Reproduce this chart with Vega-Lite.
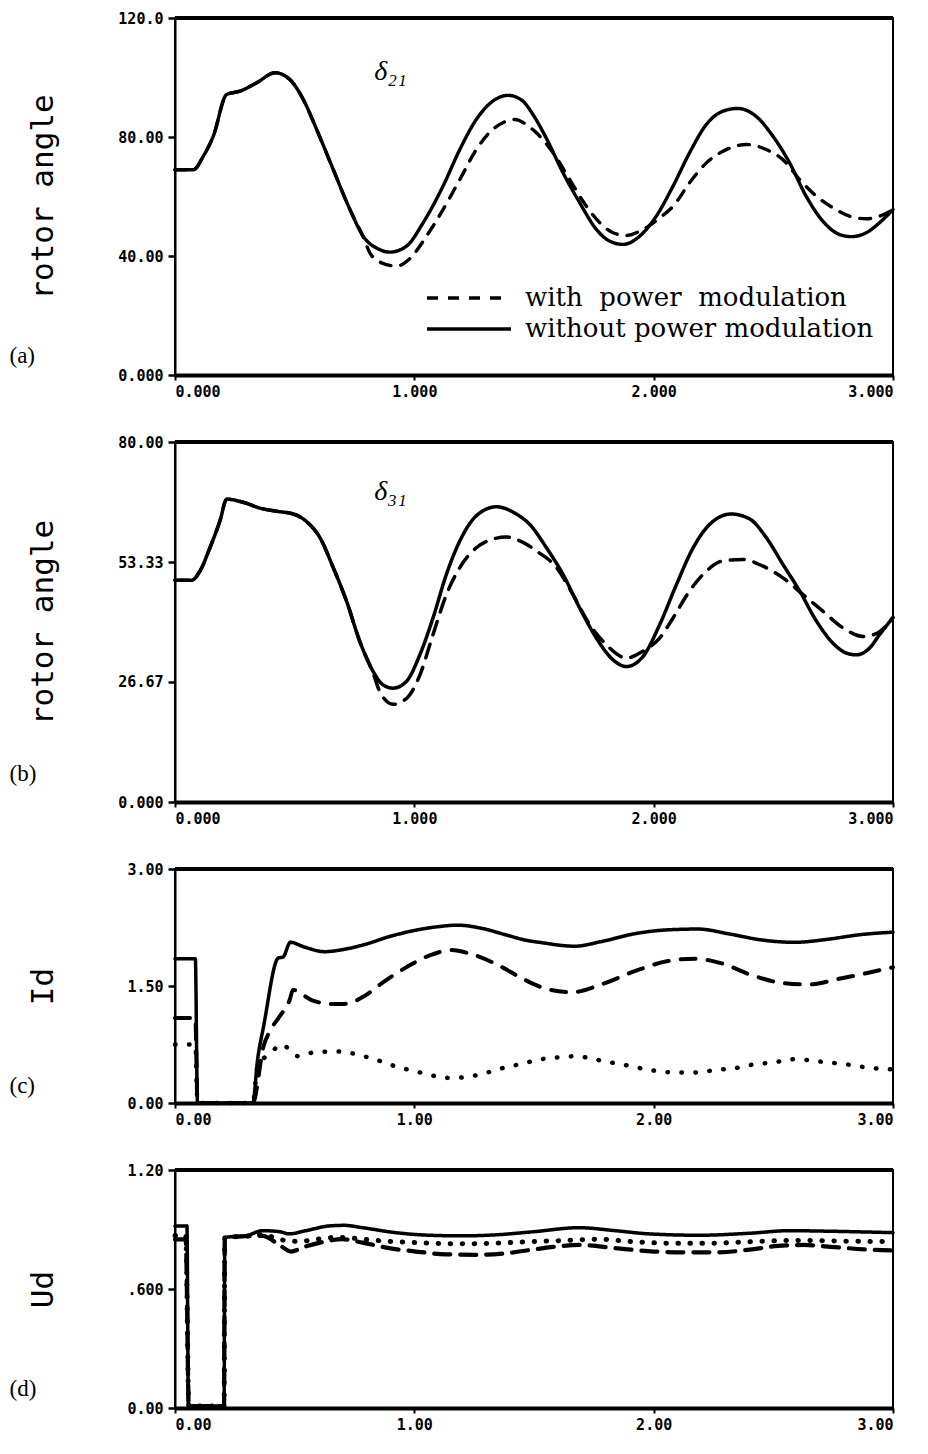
{
  "$schema": "https://vega.github.io/schema/vega-lite/v6.json",
  "background": "white",
  "padding": {"left": 8, "top": 10, "right": 5, "bottom": 5},
  "spacing": 34,
  "resolve": {"scale": {"x": "independent", "y": "independent", "strokeDash": "independent", "strokeWidth": "independent"}},
  "config": {
    "view": {"stroke": "black", "strokeWidth": 2},
    "axis": {"labelFont": "DejaVu Sans Mono", "labelFontWeight": "bold", "labelFontSize": 15, "labelColor": "black", "domainColor": "black", "tickColor": "black", "grid": false, "titleColor": "black"},
    "axisX": {"domainWidth": 4, "tickSize": 5, "tickWidth": 2, "labelPadding": 4, "titleFont": "Liberation Serif", "titleFontSize": 23, "titleFontWeight": "normal", "titleAlign": "left", "titleBaseline": "middle", "titleX": -166},
    "axisY": {"domainWidth": 2, "tickSize": 7, "tickWidth": 2.5, "labelPadding": 5, "titleFont": "DejaVu Sans Mono", "titleFontSize": 31, "titleFontWeight": "normal", "titleX": -132, "titleBaseline": "middle"}
  },
  "datasets": {
    "a": [
      {"t":0,"v":69,"s":"without power modulation"},{"t":0.077,"v":69,"s":"without power modulation"},{"t":0.118,"v":73.5,"s":"without power modulation"},{"t":0.16,"v":80.3,"s":"without power modulation"},{"t":0.216,"v":94.3,"s":"without power modulation"},{"t":0.271,"v":95.4,"s":"without power modulation"},{"t":0.341,"v":98.2,"s":"without power modulation"},{"t":0.418,"v":101.6,"s":"without power modulation"},{"t":0.48,"v":99.3,"s":"without power modulation"},{"t":0.536,"v":92.6,"s":"without power modulation"},{"t":0.592,"v":82.5,"s":"without power modulation"},{"t":0.661,"v":69.1,"s":"without power modulation"},{"t":0.731,"v":55.6,"s":"without power modulation"},{"t":0.786,"v":46.7,"s":"without power modulation"},{"t":0.854,"v":42.2,"s":"without power modulation"},{"t":0.898,"v":41.3,"s":"without power modulation"},{"t":0.967,"v":43.3,"s":"without power modulation"},{"t":1.037,"v":51.2,"s":"without power modulation"},{"t":1.12,"v":63.5,"s":"without power modulation"},{"t":1.19,"v":75.8,"s":"without power modulation"},{"t":1.259,"v":85.9,"s":"without power modulation"},{"t":1.327,"v":92.0,"s":"without power modulation"},{"t":1.392,"v":94.0,"s":"without power modulation"},{"t":1.45,"v":92.3,"s":"without power modulation"},{"t":1.5,"v":87,"s":"without power modulation"},{"t":1.552,"v":79.5,"s":"without power modulation"},{"t":1.621,"v":68,"s":"without power modulation"},{"t":1.691,"v":57.9,"s":"without power modulation"},{"t":1.761,"v":48.9,"s":"without power modulation"},{"t":1.816,"v":45.0,"s":"without power modulation"},{"t":1.872,"v":43.9,"s":"without power modulation"},{"t":1.942,"v":46.7,"s":"without power modulation"},{"t":2.011,"v":53.4,"s":"without power modulation"},{"t":2.081,"v":63.5,"s":"without power modulation"},{"t":2.15,"v":74.7,"s":"without power modulation"},{"t":2.22,"v":84.2,"s":"without power modulation"},{"t":2.29,"v":88.7,"s":"without power modulation"},{"t":2.352,"v":89.6,"s":"without power modulation"},{"t":2.427,"v":87.0,"s":"without power modulation"},{"t":2.498,"v":80.3,"s":"without power modulation"},{"t":2.568,"v":71.3,"s":"without power modulation"},{"t":2.637,"v":60.1,"s":"without power modulation"},{"t":2.707,"v":51.7,"s":"without power modulation"},{"t":2.777,"v":47.2,"s":"without power modulation"},{"t":2.825,"v":46.5,"s":"without power modulation"},{"t":2.888,"v":47.8,"s":"without power modulation"},{"t":2.944,"v":51.2,"s":"without power modulation"},{"t":3.0,"v":55.6,"s":"without power modulation"},
      {"t":0,"v":69,"s":"with power modulation"},{"t":0.077,"v":69,"s":"with power modulation"},{"t":0.118,"v":73.5,"s":"with power modulation"},{"t":0.16,"v":80.3,"s":"with power modulation"},{"t":0.216,"v":94.3,"s":"with power modulation"},{"t":0.271,"v":95.4,"s":"with power modulation"},{"t":0.341,"v":98.2,"s":"with power modulation"},{"t":0.418,"v":101.6,"s":"with power modulation"},{"t":0.48,"v":99.3,"s":"with power modulation"},{"t":0.536,"v":92.6,"s":"with power modulation"},{"t":0.592,"v":82.5,"s":"with power modulation"},{"t":0.661,"v":69.1,"s":"with power modulation"},{"t":0.731,"v":55.6,"s":"with power modulation"},{"t":0.786,"v":46.5,"s":"with power modulation"},{"t":0.814,"v":41.1,"s":"with power modulation"},{"t":0.863,"v":37.7,"s":"with power modulation"},{"t":0.926,"v":36.6,"s":"with power modulation"},{"t":0.981,"v":39.1,"s":"with power modulation"},{"t":1.051,"v":46.7,"s":"with power modulation"},{"t":1.12,"v":55.6,"s":"with power modulation"},{"t":1.19,"v":65.7,"s":"with power modulation"},{"t":1.259,"v":75.8,"s":"with power modulation"},{"t":1.327,"v":82.5,"s":"with power modulation"},{"t":1.385,"v":85.3,"s":"with power modulation"},{"t":1.42,"v":85.9,"s":"with power modulation"},{"t":1.468,"v":84.2,"s":"with power modulation"},{"t":1.51,"v":81.4,"s":"with power modulation"},{"t":1.58,"v":74.7,"s":"with power modulation"},{"t":1.649,"v":65.7,"s":"with power modulation"},{"t":1.719,"v":56.7,"s":"with power modulation"},{"t":1.775,"v":51.2,"s":"with power modulation"},{"t":1.83,"v":47.8,"s":"with power modulation"},{"t":1.886,"v":46.9,"s":"with power modulation"},{"t":1.955,"v":48.9,"s":"with power modulation"},{"t":2.025,"v":52.8,"s":"with power modulation"},{"t":2.081,"v":56.7,"s":"with power modulation"},{"t":2.15,"v":64.6,"s":"with power modulation"},{"t":2.22,"v":71.3,"s":"with power modulation"},{"t":2.29,"v":75.2,"s":"with power modulation"},{"t":2.387,"v":77.5,"s":"with power modulation"},{"t":2.47,"v":75.8,"s":"with power modulation"},{"t":2.54,"v":72.4,"s":"with power modulation"},{"t":2.61,"v":65.7,"s":"with power modulation"},{"t":2.68,"v":60.1,"s":"with power modulation"},{"t":2.749,"v":56.2,"s":"with power modulation"},{"t":2.818,"v":53.4,"s":"with power modulation"},{"t":2.888,"v":52.5,"s":"with power modulation"},{"t":2.944,"v":53.4,"s":"with power modulation"},{"t":3.0,"v":55.6,"s":"with power modulation"}
    ],
    "b": [
      {"t":0,"v":49.3,"s":"without power modulation"},{"t":0.07,"v":49.3,"s":"without power modulation"},{"t":0.104,"v":51.3,"s":"without power modulation"},{"t":0.146,"v":56.5,"s":"without power modulation"},{"t":0.188,"v":62.5,"s":"without power modulation"},{"t":0.216,"v":67.3,"s":"without power modulation"},{"t":0.285,"v":66.6,"s":"without power modulation"},{"t":0.355,"v":65.3,"s":"without power modulation"},{"t":0.425,"v":64.6,"s":"without power modulation"},{"t":0.494,"v":64.0,"s":"without power modulation"},{"t":0.55,"v":62.3,"s":"without power modulation"},{"t":0.605,"v":58.8,"s":"without power modulation"},{"t":0.661,"v":52.1,"s":"without power modulation"},{"t":0.717,"v":44.6,"s":"without power modulation"},{"t":0.772,"v":35.7,"s":"without power modulation"},{"t":0.828,"v":29.0,"s":"without power modulation"},{"t":0.87,"v":26.0,"s":"without power modulation"},{"t":0.911,"v":25.3,"s":"without power modulation"},{"t":0.967,"v":26.8,"s":"without power modulation"},{"t":1.023,"v":32.7,"s":"without power modulation"},{"t":1.078,"v":40.9,"s":"without power modulation"},{"t":1.134,"v":50.6,"s":"without power modulation"},{"t":1.19,"v":58.0,"s":"without power modulation"},{"t":1.259,"v":63.6,"s":"without power modulation"},{"t":1.343,"v":65.6,"s":"without power modulation"},{"t":1.426,"v":64.0,"s":"without power modulation"},{"t":1.482,"v":61.7,"s":"without power modulation"},{"t":1.552,"v":56.5,"s":"without power modulation"},{"t":1.621,"v":50.6,"s":"without power modulation"},{"t":1.691,"v":43.1,"s":"without power modulation"},{"t":1.761,"v":36.4,"s":"without power modulation"},{"t":1.83,"v":31.6,"s":"without power modulation"},{"t":1.886,"v":30.1,"s":"without power modulation"},{"t":1.955,"v":32.3,"s":"without power modulation"},{"t":2.025,"v":39.4,"s":"without power modulation"},{"t":2.095,"v":48.3,"s":"without power modulation"},{"t":2.165,"v":56.5,"s":"without power modulation"},{"t":2.234,"v":61.7,"s":"without power modulation"},{"t":2.324,"v":64.0,"s":"without power modulation"},{"t":2.401,"v":62.9,"s":"without power modulation"},{"t":2.47,"v":58.8,"s":"without power modulation"},{"t":2.54,"v":52.8,"s":"without power modulation"},{"t":2.61,"v":46.9,"s":"without power modulation"},{"t":2.68,"v":40.2,"s":"without power modulation"},{"t":2.749,"v":35.3,"s":"without power modulation"},{"t":2.805,"v":33.1,"s":"without power modulation"},{"t":2.846,"v":32.7,"s":"without power modulation"},{"t":2.902,"v":34.2,"s":"without power modulation"},{"t":2.944,"v":37.2,"s":"without power modulation"},{"t":3.0,"v":41.0,"s":"without power modulation"},
      {"t":0,"v":49.3,"s":"with power modulation"},{"t":0.07,"v":49.3,"s":"with power modulation"},{"t":0.104,"v":51.3,"s":"with power modulation"},{"t":0.146,"v":56.5,"s":"with power modulation"},{"t":0.188,"v":62.5,"s":"with power modulation"},{"t":0.216,"v":67.3,"s":"with power modulation"},{"t":0.285,"v":66.6,"s":"with power modulation"},{"t":0.355,"v":65.3,"s":"with power modulation"},{"t":0.425,"v":64.6,"s":"with power modulation"},{"t":0.494,"v":64.0,"s":"with power modulation"},{"t":0.55,"v":62.3,"s":"with power modulation"},{"t":0.605,"v":58.8,"s":"with power modulation"},{"t":0.661,"v":52.1,"s":"with power modulation"},{"t":0.717,"v":44.6,"s":"with power modulation"},{"t":0.772,"v":35.7,"s":"with power modulation"},{"t":0.828,"v":28.6,"s":"with power modulation"},{"t":0.856,"v":24.5,"s":"with power modulation"},{"t":0.911,"v":21.7,"s":"with power modulation"},{"t":0.967,"v":23.0,"s":"with power modulation"},{"t":1.023,"v":28.2,"s":"with power modulation"},{"t":1.078,"v":37.2,"s":"with power modulation"},{"t":1.134,"v":46.1,"s":"with power modulation"},{"t":1.19,"v":52.1,"s":"with power modulation"},{"t":1.259,"v":56.5,"s":"with power modulation"},{"t":1.327,"v":58.4,"s":"with power modulation"},{"t":1.385,"v":58.9,"s":"with power modulation"},{"t":1.454,"v":57.7,"s":"with power modulation"},{"t":1.51,"v":55.8,"s":"with power modulation"},{"t":1.594,"v":52.1,"s":"with power modulation"},{"t":1.663,"v":46.1,"s":"with power modulation"},{"t":1.733,"v":39.4,"s":"with power modulation"},{"t":1.803,"v":34.9,"s":"with power modulation"},{"t":1.886,"v":32.0,"s":"with power modulation"},{"t":1.955,"v":33.5,"s":"with power modulation"},{"t":2.025,"v":36.4,"s":"with power modulation"},{"t":2.081,"v":40.9,"s":"with power modulation"},{"t":2.15,"v":46.9,"s":"with power modulation"},{"t":2.22,"v":51.3,"s":"with power modulation"},{"t":2.29,"v":53.6,"s":"with power modulation"},{"t":2.373,"v":53.9,"s":"with power modulation"},{"t":2.457,"v":52.4,"s":"with power modulation"},{"t":2.54,"v":49.8,"s":"with power modulation"},{"t":2.624,"v":46.1,"s":"with power modulation"},{"t":2.707,"v":42.4,"s":"with power modulation"},{"t":2.791,"v":38.7,"s":"with power modulation"},{"t":2.875,"v":36.8,"s":"with power modulation"},{"t":2.93,"v":37.4,"s":"with power modulation"},{"t":3.0,"v":41.0,"s":"with power modulation"}
    ],
    "c": [
      {"t":0,"v":1.85,"s":"series 1"},{"t":0.085,"v":1.85,"s":"series 1"},{"t":0.094,"v":0,"s":"series 1"},{"t":0.325,"v":0,"s":"series 1"},{"t":0.345,"v":0.555,"s":"series 1"},{"t":0.37,"v":0.98,"s":"series 1"},{"t":0.432,"v":1.86,"s":"series 1"},{"t":0.451,"v":1.87,"s":"series 1"},{"t":0.482,"v":2.06,"s":"series 1"},{"t":0.54,"v":2.0,"s":"series 1"},{"t":0.624,"v":1.94,"s":"series 1"},{"t":0.707,"v":1.97,"s":"series 1"},{"t":0.791,"v":2.03,"s":"series 1"},{"t":0.903,"v":2.14,"s":"series 1"},{"t":1.014,"v":2.22,"s":"series 1"},{"t":1.098,"v":2.26,"s":"series 1"},{"t":1.182,"v":2.28,"s":"series 1"},{"t":1.28,"v":2.24,"s":"series 1"},{"t":1.377,"v":2.16,"s":"series 1"},{"t":1.461,"v":2.09,"s":"series 1"},{"t":1.545,"v":2.05,"s":"series 1"},{"t":1.615,"v":2.02,"s":"series 1"},{"t":1.67,"v":2.01,"s":"series 1"},{"t":1.782,"v":2.07,"s":"series 1"},{"t":1.921,"v":2.17,"s":"series 1"},{"t":2.06,"v":2.22,"s":"series 1"},{"t":2.186,"v":2.23,"s":"series 1"},{"t":2.311,"v":2.17,"s":"series 1"},{"t":2.451,"v":2.09,"s":"series 1"},{"t":2.59,"v":2.06,"s":"series 1"},{"t":2.729,"v":2.10,"s":"series 1"},{"t":2.869,"v":2.16,"s":"series 1"},{"t":3.0,"v":2.19,"s":"series 1"},
      {"t":0,"v":1.09,"s":"series 2"},{"t":0.085,"v":1.09,"s":"series 2"},{"t":0.094,"v":0,"s":"series 2"},{"t":0.325,"v":0,"s":"series 2"},{"t":0.37,"v":0.73,"s":"series 2"},{"t":0.4,"v":0.94,"s":"series 2"},{"t":0.437,"v":1.11,"s":"series 2"},{"t":0.479,"v":1.32,"s":"series 2"},{"t":0.493,"v":1.45,"s":"series 2"},{"t":0.57,"v":1.32,"s":"series 2"},{"t":0.654,"v":1.27,"s":"series 2"},{"t":0.707,"v":1.27,"s":"series 2"},{"t":0.791,"v":1.37,"s":"series 2"},{"t":0.875,"v":1.56,"s":"series 2"},{"t":0.972,"v":1.75,"s":"series 2"},{"t":1.07,"v":1.90,"s":"series 2"},{"t":1.154,"v":1.96,"s":"series 2"},{"t":1.238,"v":1.91,"s":"series 2"},{"t":1.349,"v":1.77,"s":"series 2"},{"t":1.461,"v":1.58,"s":"series 2"},{"t":1.545,"v":1.47,"s":"series 2"},{"t":1.657,"v":1.42,"s":"series 2"},{"t":1.782,"v":1.52,"s":"series 2"},{"t":1.921,"v":1.69,"s":"series 2"},{"t":2.06,"v":1.82,"s":"series 2"},{"t":2.172,"v":1.85,"s":"series 2"},{"t":2.284,"v":1.79,"s":"series 2"},{"t":2.409,"v":1.64,"s":"series 2"},{"t":2.535,"v":1.54,"s":"series 2"},{"t":2.646,"v":1.52,"s":"series 2"},{"t":2.786,"v":1.60,"s":"series 2"},{"t":2.897,"v":1.67,"s":"series 2"},{"t":3.0,"v":1.74,"s":"series 2"},
      {"t":0,"v":0.75,"s":"series 3"},{"t":0.085,"v":0.75,"s":"series 3"},{"t":0.094,"v":0,"s":"series 3"},{"t":0.325,"v":0,"s":"series 3"},{"t":0.345,"v":0.47,"s":"series 3"},{"t":0.4,"v":0.64,"s":"series 3"},{"t":0.446,"v":0.75,"s":"series 3"},{"t":0.513,"v":0.60,"s":"series 3"},{"t":0.583,"v":0.65,"s":"series 3"},{"t":0.694,"v":0.66,"s":"series 3"},{"t":0.75,"v":0.63,"s":"series 3"},{"t":0.812,"v":0.58,"s":"series 3"},{"t":0.875,"v":0.52,"s":"series 3"},{"t":0.931,"v":0.46,"s":"series 3"},{"t":0.986,"v":0.42,"s":"series 3"},{"t":1.098,"v":0.34,"s":"series 3"},{"t":1.154,"v":0.32,"s":"series 3"},{"t":1.21,"v":0.33,"s":"series 3"},{"t":1.266,"v":0.36,"s":"series 3"},{"t":1.328,"v":0.41,"s":"series 3"},{"t":1.384,"v":0.46,"s":"series 3"},{"t":1.447,"v":0.50,"s":"series 3"},{"t":1.51,"v":0.55,"s":"series 3"},{"t":1.622,"v":0.59,"s":"series 3"},{"t":1.678,"v":0.60,"s":"series 3"},{"t":1.74,"v":0.57,"s":"series 3"},{"t":1.8,"v":0.53,"s":"series 3"},{"t":1.86,"v":0.50,"s":"series 3"},{"t":1.921,"v":0.46,"s":"series 3"},{"t":1.991,"v":0.42,"s":"series 3"},{"t":2.102,"v":0.39,"s":"series 3"},{"t":2.16,"v":0.39,"s":"series 3"},{"t":2.228,"v":0.41,"s":"series 3"},{"t":2.283,"v":0.43,"s":"series 3"},{"t":2.346,"v":0.45,"s":"series 3"},{"t":2.409,"v":0.49,"s":"series 3"},{"t":2.464,"v":0.51,"s":"series 3"},{"t":2.52,"v":0.53,"s":"series 3"},{"t":2.58,"v":0.56,"s":"series 3"},{"t":2.646,"v":0.55,"s":"series 3"},{"t":2.7,"v":0.53,"s":"series 3"},{"t":2.76,"v":0.51,"s":"series 3"},{"t":2.82,"v":0.49,"s":"series 3"},{"t":2.88,"v":0.46,"s":"series 3"},{"t":2.94,"v":0.44,"s":"series 3"},{"t":3.0,"v":0.43,"s":"series 3"}
    ],
    "d": [
      {"t":0,"v":0.918,"s":"series 1"},{"t":0.05,"v":0.918,"s":"series 1"},{"t":0.056,"v":0.01,"s":"series 1"},{"t":0.205,"v":0.01,"s":"series 1"},{"t":0.208,"v":0.86,"s":"series 1"},{"t":0.296,"v":0.868,"s":"series 1"},{"t":0.366,"v":0.894,"s":"series 1"},{"t":0.436,"v":0.889,"s":"series 1"},{"t":0.478,"v":0.878,"s":"series 1"},{"t":0.547,"v":0.894,"s":"series 1"},{"t":0.645,"v":0.918,"s":"series 1"},{"t":0.708,"v":0.921,"s":"series 1"},{"t":0.784,"v":0.909,"s":"series 1"},{"t":0.923,"v":0.884,"s":"series 1"},{"t":1.063,"v":0.871,"s":"series 1"},{"t":1.2,"v":0.868,"s":"series 1"},{"t":1.34,"v":0.873,"s":"series 1"},{"t":1.5,"v":0.889,"s":"series 1"},{"t":1.688,"v":0.909,"s":"series 1"},{"t":1.84,"v":0.894,"s":"series 1"},{"t":1.98,"v":0.878,"s":"series 1"},{"t":2.19,"v":0.871,"s":"series 1"},{"t":2.399,"v":0.881,"s":"series 1"},{"t":2.566,"v":0.894,"s":"series 1"},{"t":2.747,"v":0.891,"s":"series 1"},{"t":3.0,"v":0.884,"s":"series 1"},
      {"t":0,"v":0.85,"s":"series 2"},{"t":0.045,"v":0.85,"s":"series 2"},{"t":0.058,"v":0.01,"s":"series 2"},{"t":0.205,"v":0.01,"s":"series 2"},{"t":0.208,"v":0.86,"s":"series 2"},{"t":0.296,"v":0.866,"s":"series 2"},{"t":0.366,"v":0.868,"s":"series 2"},{"t":0.436,"v":0.822,"s":"series 2"},{"t":0.485,"v":0.789,"s":"series 2"},{"t":0.536,"v":0.811,"s":"series 2"},{"t":0.606,"v":0.834,"s":"series 2"},{"t":0.7,"v":0.851,"s":"series 2"},{"t":0.784,"v":0.834,"s":"series 2"},{"t":0.895,"v":0.806,"s":"series 2"},{"t":1.006,"v":0.789,"s":"series 2"},{"t":1.13,"v":0.775,"s":"series 2"},{"t":1.256,"v":0.772,"s":"series 2"},{"t":1.381,"v":0.780,"s":"series 2"},{"t":1.507,"v":0.801,"s":"series 2"},{"t":1.57,"v":0.811,"s":"series 2"},{"t":1.695,"v":0.822,"s":"series 2"},{"t":1.84,"v":0.806,"s":"series 2"},{"t":2.0,"v":0.789,"s":"series 2"},{"t":2.13,"v":0.785,"s":"series 2"},{"t":2.27,"v":0.785,"s":"series 2"},{"t":2.41,"v":0.80,"s":"series 2"},{"t":2.52,"v":0.817,"s":"series 2"},{"t":2.63,"v":0.822,"s":"series 2"},{"t":2.756,"v":0.811,"s":"series 2"},{"t":2.88,"v":0.80,"s":"series 2"},{"t":3.0,"v":0.794,"s":"series 2"},
      {"t":0,"v":0.87,"s":"series 3"},{"t":0.045,"v":0.87,"s":"series 3"},{"t":0.058,"v":0.01,"s":"series 3"},{"t":0.205,"v":0.01,"s":"series 3"},{"t":0.208,"v":0.86,"s":"series 3"},{"t":0.296,"v":0.866,"s":"series 3"},{"t":0.366,"v":0.875,"s":"series 3"},{"t":0.436,"v":0.85,"s":"series 3"},{"t":0.52,"v":0.84,"s":"series 3"},{"t":0.59,"v":0.851,"s":"series 3"},{"t":0.67,"v":0.86,"s":"series 3"},{"t":0.755,"v":0.855,"s":"series 3"},{"t":0.84,"v":0.845,"s":"series 3"},{"t":1.006,"v":0.834,"s":"series 3"},{"t":1.17,"v":0.828,"s":"series 3"},{"t":1.34,"v":0.831,"s":"series 3"},{"t":1.49,"v":0.839,"s":"series 3"},{"t":1.63,"v":0.845,"s":"series 3"},{"t":1.77,"v":0.851,"s":"series 3"},{"t":1.91,"v":0.839,"s":"series 3"},{"t":2.07,"v":0.831,"s":"series 3"},{"t":2.24,"v":0.831,"s":"series 3"},{"t":2.41,"v":0.839,"s":"series 3"},{"t":2.6,"v":0.845,"s":"series 3"},{"t":2.81,"v":0.841,"s":"series 3"},{"t":3.0,"v":0.839,"s":"series 3"}
    ]
  },
  "vconcat": [
    {
      "width": 718, "height": 357,
      "data": {"name": "a"},
      "layer": [
        {
          "mark": {"type": "line", "color": "black", "strokeWidth": 3.4, "strokeCap": "round", "interpolate": "monotone"},
          "encoding": {
            "x": {"field": "t", "type": "quantitative", "scale": {"domain": [0, 3], "nice": false, "zero": false},
                  "axis": {"values": [0, 1, 2, 3], "labelExpr": "datum.value == 0 ? '0.000' : format(datum.value, '.4r')", "title": "(a)", "titleY": -20}},
            "y": {"field": "v", "type": "quantitative", "scale": {"domain": [0, 120], "nice": false},
                  "axis": {"values": [0, 40, 80, 120], "labelExpr": "datum.value == 0 ? '0.000' : format(datum.value, '.4r')", "title": "rotor angle"}},
            "strokeDash": {"field": "s", "type": "nominal",
              "scale": {"domain": ["with power modulation", "without power modulation"], "range": [[11, 10], [1, 0]]},
              "legend": {"orient": "none", "legendX": 278, "legendY": 264, "title": null,
                "labelFont": "DejaVu Serif", "labelFontSize": 26, "labelColor": "black", "labelLimit": 500,
                "symbolType": "M-3,0H3", "symbolSize": 784, "symbolStrokeWidth": 3.5, "symbolStrokeColor": "black",
                "labelOffset": 40, "rowPadding": 2,
                "labelExpr": "datum.label == 'with power modulation' ? 'with\u00a0\u00a0power\u00a0\u00a0modulation' : datum.label"}}
          }
        },
        {"data": {"values": [{"k": 1}]}, "mark": {"type": "rule", "color": "black", "strokeWidth": 4}, "encoding": {"y": {"datum": 120}}},
        {"data": {"values": [{"lab": "δ₂₁"}]}, "mark": {"type": "text", "font": "Liberation Serif", "fontStyle": "italic", "fontSize": 28, "color": "black"},
         "encoding": {"x": {"datum": 0.9}, "y": {"datum": 102}, "text": {"field": "lab"}}}
      ]
    },
    {
      "width": 718, "height": 360,
      "data": {"name": "b"},
      "layer": [
        {
          "mark": {"type": "line", "color": "black", "strokeWidth": 3.5, "strokeCap": "round", "interpolate": "monotone"},
          "encoding": {
            "x": {"field": "t", "type": "quantitative", "scale": {"domain": [0, 3], "nice": false, "zero": false},
                  "axis": {"values": [0, 1, 2, 3], "labelExpr": "datum.value == 0 ? '0.000' : format(datum.value, '.4r')", "title": "(b)", "titleY": -29}},
            "y": {"field": "v", "type": "quantitative", "scale": {"domain": [0, 80], "nice": false},
                  "axis": {"values": [0, 26.6667, 53.3333, 80], "labelExpr": "datum.value == 0 ? '0.000' : format(datum.value, '.4r')", "title": "rotor angle"}},
            "strokeDash": {"field": "s", "type": "nominal",
              "scale": {"domain": ["with power modulation", "without power modulation"], "range": [[14, 10], [1, 0]]},
              "legend": null}
          }
        },
        {"data": {"values": [{"k": 1}]}, "mark": {"type": "rule", "color": "black", "strokeWidth": 4}, "encoding": {"y": {"datum": 80}}},
        {"data": {"values": [{"lab": "δ₃₁"}]}, "mark": {"type": "text", "font": "Liberation Serif", "fontStyle": "italic", "fontSize": 28, "color": "black"},
         "encoding": {"x": {"datum": 0.9}, "y": {"datum": 69}, "text": {"field": "lab"}}}
      ]
    },
    {
      "width": 718, "height": 234,
      "data": {"name": "c"},
      "layer": [
        {
          "mark": {"type": "line", "color": "black", "strokeCap": "round", "interpolate": "monotone"},
          "encoding": {
            "x": {"field": "t", "type": "quantitative", "scale": {"domain": [0, 3], "nice": false, "zero": false},
                  "axis": {"values": [0, 1, 2, 3], "format": ".2f", "title": "(c)", "titleY": -18}},
            "y": {"field": "v", "type": "quantitative", "scale": {"domain": [0, 3], "nice": false},
                  "axis": {"values": [0, 1.5, 3], "format": ".2f", "title": "Id"}},
            "strokeDash": {"field": "s", "type": "nominal",
              "scale": {"domain": ["series 1", "series 2", "series 3"], "range": [[1, 0], [15, 12], [0.5, 13.5]]},
              "legend": null},
            "strokeWidth": {"field": "s", "type": "nominal",
              "scale": {"domain": ["series 1", "series 2", "series 3"], "range": [3.5, 4.5, 6]},
              "legend": null}
          }
        },
        {"data": {"values": [{"k": 1}]}, "mark": {"type": "rule", "color": "black", "strokeWidth": 4}, "encoding": {"y": {"datum": 3}}}
      ]
    },
    {
      "width": 718, "height": 238,
      "data": {"name": "d"},
      "layer": [
        {
          "mark": {"type": "line", "color": "black", "strokeCap": "round", "interpolate": "monotone"},
          "encoding": {
            "x": {"field": "t", "type": "quantitative", "scale": {"domain": [0, 3], "nice": false, "zero": false},
                  "axis": {"values": [0, 1, 2, 3], "format": ".2f", "title": "(d)", "titleY": -20}},
            "y": {"field": "v", "type": "quantitative", "scale": {"domain": [0, 1.2], "nice": false},
                  "axis": {"values": [0, 0.6, 1.2], "labelExpr": "datum.value == 0.6 ? '.600' : format(datum.value, '.2f')", "title": "Ud"}},
            "strokeDash": {"field": "s", "type": "nominal",
              "scale": {"domain": ["series 1", "series 2", "series 3"], "range": [[1, 0], [16, 10], [0.5, 11.5]]},
              "legend": null},
            "strokeWidth": {"field": "s", "type": "nominal",
              "scale": {"domain": ["series 1", "series 2", "series 3"], "range": [3.5, 5, 5.5]},
              "legend": null}
          }
        },
        {"data": {"values": [{"k": 1}]}, "mark": {"type": "rule", "color": "black", "strokeWidth": 4}, "encoding": {"y": {"datum": 1.2}}}
      ]
    }
  ]
}
